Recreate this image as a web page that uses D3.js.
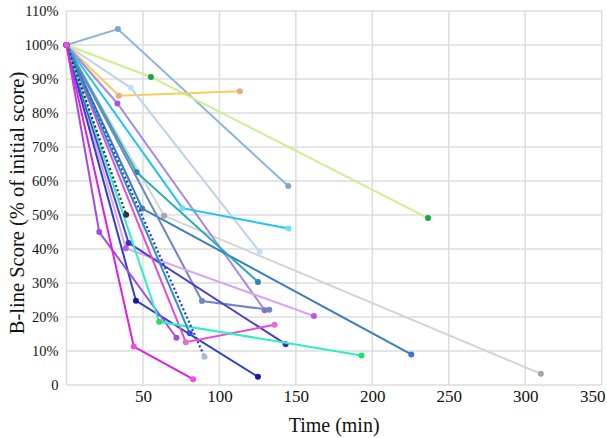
<!DOCTYPE html>
<html>
<head>
<meta charset="utf-8">
<script src="https://cdn.jsdelivr.net/npm/d3@7"></script>
<style>
  body { margin: 0; background: #fff; }
</style>
</head>
<body>
<div id="chart"></div>
<script>
// ......................
// Data (time in min, score in % of initial)
var patients = ["G", "A", "B", "C", "D", "E", "F", "H", "I", "J", "K", "L", "M", "O", "P", "Q", "R", "S", "T", "N"];

var times = [
    [0, 63.8, 310.2],
    [0, 33.6, 145],
    [0, 55.2, 236.4],
    [0, 34.3, 113.4],
    [0, 42.1, 126.3],
    [0, 33.3, 129.6],
    [0, 75.8, 145.2],
    [0, 49.5, 225.5],
    [0, 45.8, 125.2],
    [0, 88.6, 132.6],
    [0, 38.8, 161.8],
    [0, 40.6, 143.3],
    [0, 45.4, 125.2],
    [0, 21.4, 71.9],
    [0, 78, 136.1],
    [0, 60.6, 192.9],
    [0, 90.2],
    [0, 80.6],
    [0, 39],
    [0, 44, 82.8]
];

var scores = [
    [100, 49.8, 3.3],
    [100, 104.7, 58.5],
    [100, 90.6, 49.1],
    [100, 85.1, 86.4],
    [100, 87.4, 39.2],
    [100, 82.8, 22],
    [100, 52, 46],
    [100, 51.9, 9],
    [100, 62.6, 30.3],
    [100, 24.7, 22.1],
    [100, 40.2, 20.3],
    [100, 41.8, 12],
    [100, 24.8, 2.4],
    [100, 45, 13.9],
    [100, 12.6, 17.7],
    [100, 18.6, 8.7],
    [100, 8.3],
    [100, 15.2],
    [100, 50.1],
    [100, 11.3, 1.7]
];

var xTicks = [50, 100, 150, 200, 250, 300, 350];
var yTicks = [0, 10, 20, 30, 40, 50, 60, 70, 80, 90, 100, 110];

// colours per patient (line, then marker)
var lineColors = ["#d4d4d4", "#8fb3da", "#cdef8e", "#f8cd5a", "#bcd3ea", "#a58be6", "#1cc4ef", "#3a7cc0",
                  "#25adb3", "#6d86c4", "#d9a6ec", "#4b3ed0", "#2a42c8", "#a64ae6", "#e84ad8", "#2cf0c2",
                  "#2f38a8", "#2a8fd2", "#26323f", "#e01fe0"];
var markerColors = ["#a5a5a5", "#7fa3cf", "#18a84a", "#f0a878", "#c8dcf0", "#b050e0", "#70def8", "#3a7cc0",
                    "#2c86b0", "#6d86c4", "#b45ce8", "#3a30b8", "#1a1aa0", "#a64ae6", "#e070c8", "#22e060",
                    "#a8b8e0", "#3050e0", "#2a3340", "#f04ee0"];

var serifFont = "'Liberation Serif', Tinos, 'Nimbus Roman', 'Nimbus Roman No9 L', FreeSerif, 'Times New Roman', Times, 'DejaVu Serif', serif";

// ......................
// SVG area
var svgWidth = 607;
var svgHeight = 438;
var margin = { top: 11, right: 5.3, bottom: 53, left: 66.5 };

var svg = d3.select("#chart")
    .append("svg")
    .attr("width", svgWidth)
    .attr("height", svgHeight)
    .style("font-family", serifFont);

var x = d3.scaleLinear()
    .domain([0, 350])
    .range([margin.left, svgWidth - margin.right]);

var y = d3.scaleLinear()
    .domain([0, 110])
    .range([svgHeight - margin.bottom, margin.top]);

// ......................
// gridlines
svg.append("g")
    .selectAll("line")
    .data(yTicks)
    .enter().append("line")
    .attr("x1", x(0)).attr("x2", x(350))
    .attr("y1", d => y(d)).attr("y2", d => y(d))
    .attr("stroke", "#dcdcdc").attr("stroke-width", 1.5);

svg.append("g")
    .selectAll("line")
    .data([0].concat(xTicks))
    .enter().append("line")
    .attr("x1", d => x(d)).attr("x2", d => x(d))
    .attr("y1", y(0)).attr("y2", y(110))
    .attr("stroke", "#dcdcdc").attr("stroke-width", 1.5);

// axes (text only, the gridlines play the axis line)
var xAxis = d3.axisBottom(x).tickValues(xTicks).tickSize(0).tickPadding(5);
var yAxis = d3.axisLeft(y).tickValues(yTicks).tickSize(0).tickPadding(8)
    .tickFormat(d => d === 0 ? "0" : d + "%");

var gx = svg.append("g")
    .attr("transform", `translate(0, ${y(0)})`)
    .call(xAxis);
gx.attr("font-family", serifFont).attr("font-size", 17);
gx.select(".domain").remove();
gx.selectAll("text").attr("fill", "#111");
// last label pulled inside the frame, like the original
gx.selectAll("text").filter(d => d === 350)
    .attr("text-anchor", "end").attr("x", 605 - x(350));

var gy = svg.append("g")
    .attr("transform", `translate(${x(0)}, 0)`)
    .call(yAxis);
gy.attr("font-family", serifFont).attr("font-size", 14.5);
gy.select(".domain").remove();
gy.selectAll("text").attr("fill", "#111");

// axis titles
svg.append("text")
    .attr("x", (x(0) + x(350)) / 2)
    .attr("y", 432)
    .attr("text-anchor", "middle")
    .attr("font-family", serifFont)
    .attr("font-size", 20)
    .attr("fill", "#111")
    .text("Time (min)");

svg.append("text")
    .attr("transform", `translate(24, ${y(55) + 5}) rotate(-90)`)
    .attr("text-anchor", "middle")
    .attr("font-family", serifFont)
    .attr("font-size", 20.5)
    .attr("fill", "#111")
    .text("B-line Score (% of initial score)");

// ......................
// patient lines
var line = d3.line()
    .x(d => x(d[0]))
    .y(d => y(d[1]));

patients.forEach((p, i) => {
    var pts = times[i].map((t, j) => [t, scores[i][j]]);
    var g = svg.append("g").attr("class", "patient " + p);

    g.append("path")
        .datum(pts)
        .attr("d", line)
        .attr("fill", "none")
        .attr("stroke", lineColors[i])
        .attr("stroke-width", p === "R" || p === "T" ? 2.2 : 2)
        .attr("stroke-dasharray", p === "R" || p === "T" ? "2,2.5" : null);

    g.selectAll("circle")
        .data(pts)
        .enter().append("circle")
        .attr("cx", d => x(d[0]))
        .attr("cy", d => y(d[1]))
        .attr("r", 3)
        .attr("fill", markerColors[i]);
});
</script>
</body>
</html>
